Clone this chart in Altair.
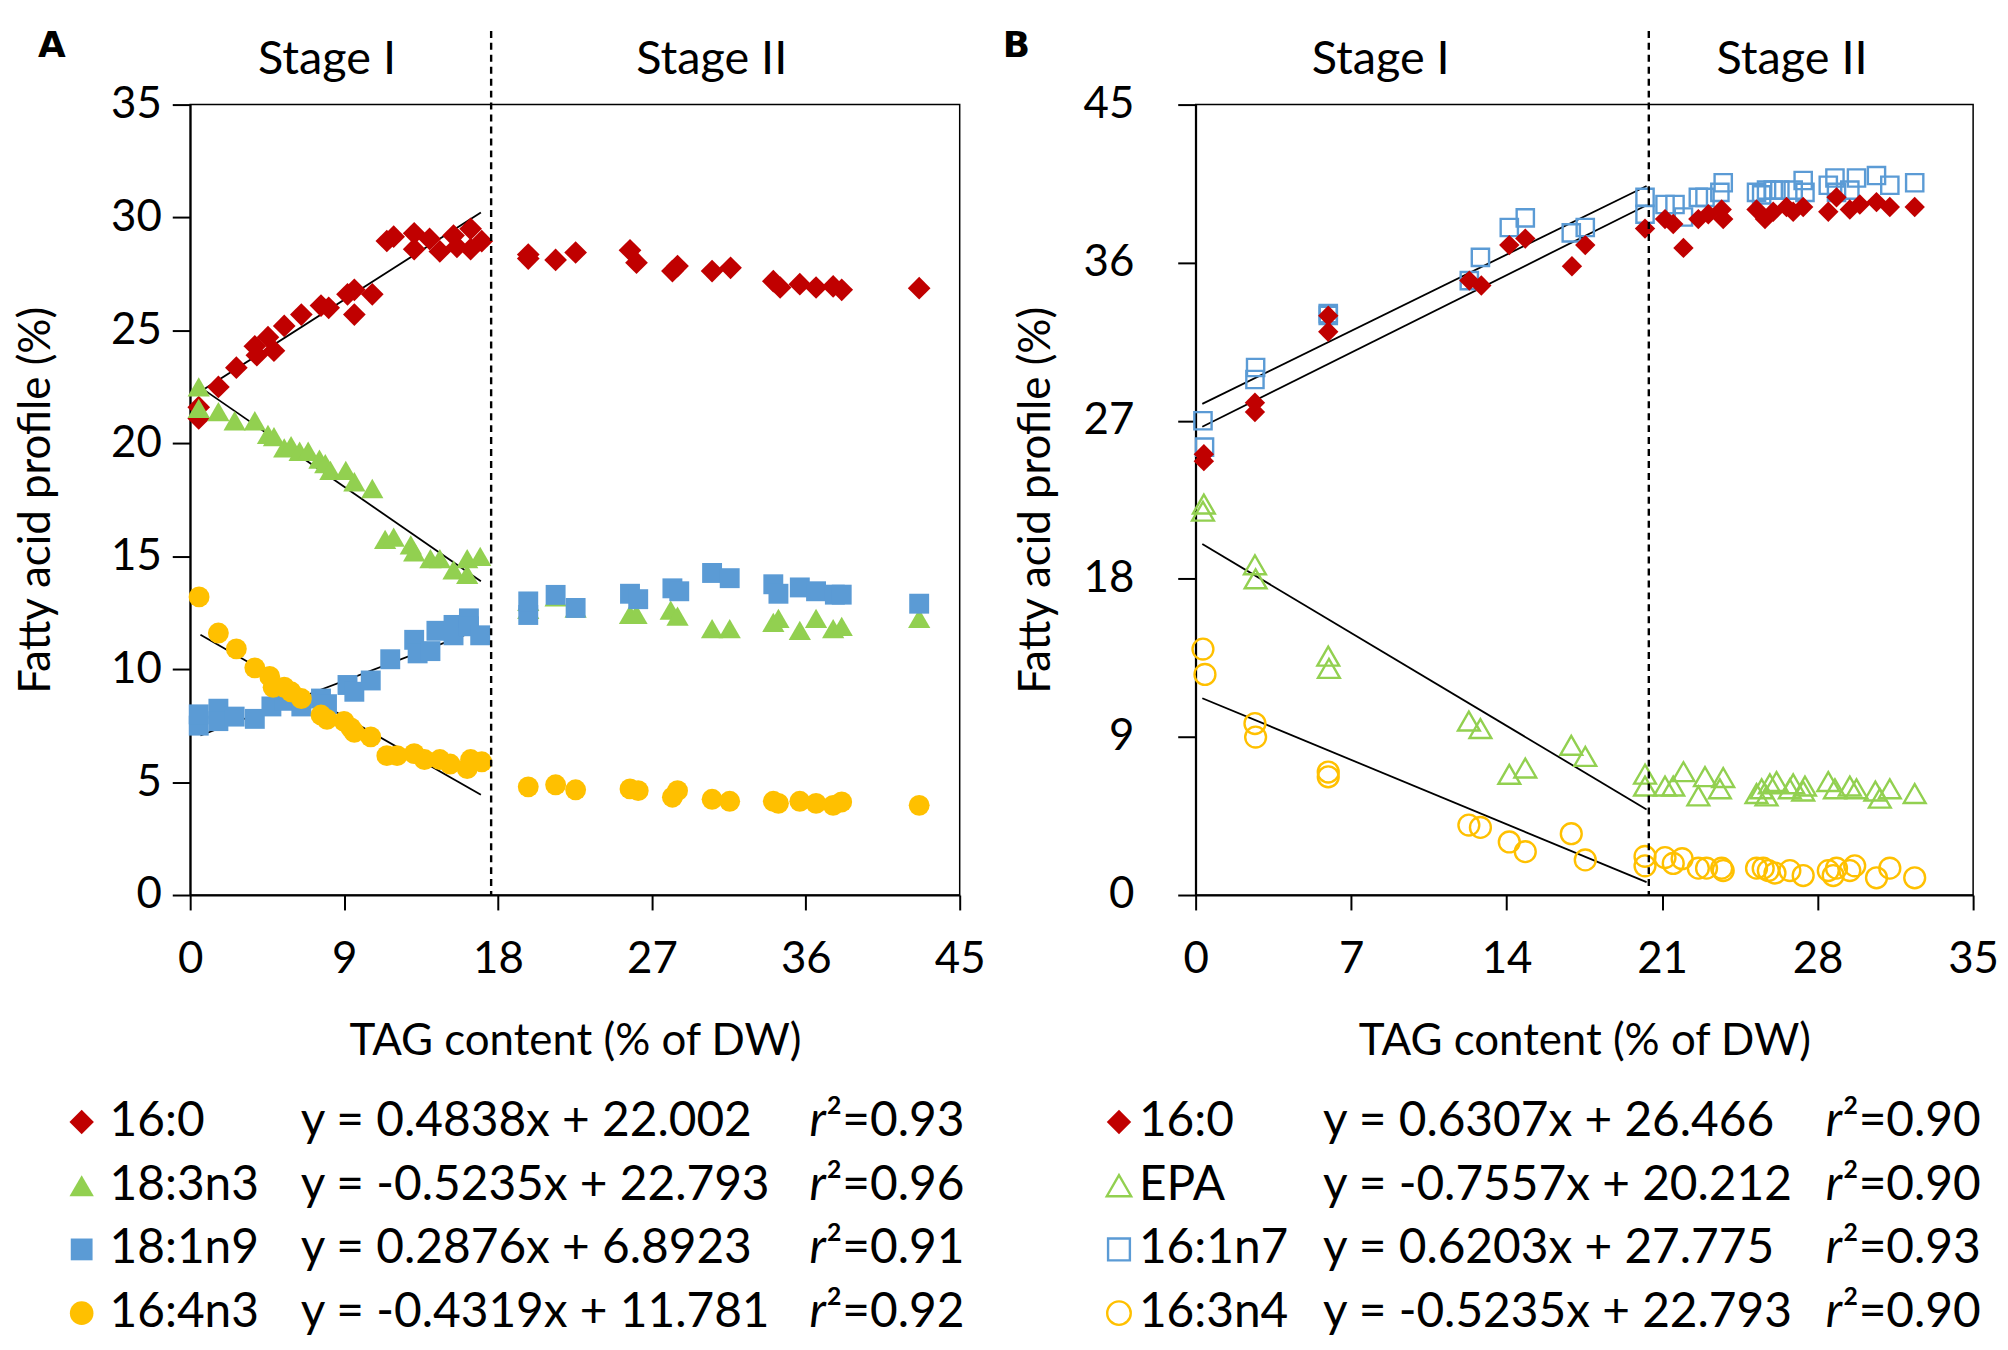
import altair as alt
import pandas as pd

FONT = "Lato"
RED = "#C00000"
GREEN = "#92D050"
BLUE = "#5B9BD5"
YELLOW = "#FFC000"

# ---------------- Panel A data ----------------
A_160_x = [0.5, 0.5, 1.65, 2.7, 3.78, 3.9, 4.55, 4.9, 5.5, 6.5, 7.65, 8.1, 9.2, 9.6, 9.6, 10.65, 11.5, 11.9,
           13.1, 13.1, 14.0, 14.6, 15.4, 15.6, 16.4, 16.4, 17.05,
           19.77, 19.77, 21.37, 22.54, 25.72, 26.1, 28.2, 28.5, 30.52, 31.6, 34.1, 34.5, 35.65, 36.6, 37.6, 38.1, 42.63]
A_160_y = [21.1, 21.6, 22.5, 23.35, 24.3, 23.9, 24.7, 24.1, 25.2, 25.7, 26.1, 26.0, 26.6, 26.8, 25.7, 26.6, 28.96, 29.15,
           29.3, 28.6, 29.05, 28.5, 29.2, 28.7, 29.5, 28.6, 28.95,
           28.36, 28.18, 28.12, 28.45, 28.55, 28.0, 27.63, 27.85, 27.63, 27.77, 27.18, 26.9, 27.05, 26.9, 26.95, 26.8, 26.87]

A_183_x = [0.5, 0.5, 1.65, 2.6, 3.78, 4.55, 4.9, 5.5, 5.9, 6.4, 6.9, 7.56, 7.9, 8.2, 9.1, 9.6, 10.65, 11.4, 11.9,
           12.9, 13.1, 14.05, 14.6, 15.4, 16.2, 16.2, 16.96,
           19.77, 19.77, 21.37, 22.54, 25.72, 26.1, 28.1, 28.5, 30.52, 31.55, 34.1, 34.4, 35.65, 36.6, 37.6, 38.1, 42.63]
A_183_y = [22.5, 21.55, 21.4, 21.0, 21.0, 20.4, 20.3, 19.8, 19.9, 19.65, 19.65, 19.3, 19.1, 18.8, 18.8, 18.3, 18.0, 15.75, 15.85,
           15.5, 15.2, 14.9, 14.9, 14.4, 14.2, 14.9, 15.0,
           13.0, 12.65, 13.2, 12.7, 12.43, 12.43, 12.62, 12.35, 11.8, 11.8, 12.07, 12.25, 11.72, 12.25, 11.8, 11.9, 12.25]

A_181_x = [0.5, 0.5, 1.65, 1.65, 2.6, 3.78, 4.75, 5.5, 6.5, 7.65, 8.0, 9.2, 9.6, 10.56, 11.7, 13.1, 13.3, 14.05,
           14.4, 15.4, 15.4, 16.3, 16.3, 16.96,
           19.77, 19.77, 21.37, 22.54, 25.72, 26.2, 28.2, 28.6, 30.52, 31.55, 34.1, 34.4, 35.65, 36.6, 37.7, 38.1, 42.63]
A_181_y = [7.5, 8.0, 8.25, 7.7, 7.9, 7.8, 8.35, 8.6, 8.35, 8.7, 8.45, 9.3, 9.0, 9.5, 10.44, 11.3, 10.7, 10.8,
           11.7, 11.96, 11.5, 12.25, 11.9, 11.5,
           12.4, 13.0, 13.29, 12.71, 13.34, 13.1, 13.58, 13.45, 14.26, 14.03, 13.76, 13.34, 13.62, 13.45, 13.3, 13.3, 12.9]

A_164_x = [0.52, 1.65, 2.7, 3.78, 4.65, 4.85, 5.5, 5.9, 6.5, 7.65, 8.0, 9.0, 9.4, 9.6, 10.56, 11.5, 12.1, 13.1,
           13.7, 14.6, 15.2, 16.2, 16.4, 17.05,
           19.77, 21.37, 22.54, 25.72, 26.2, 28.2, 28.5, 30.52, 31.55, 34.1, 34.4, 35.65, 36.6, 37.6, 38.1, 42.63]
A_164_y = [13.2, 11.6, 10.9, 10.06, 9.68, 9.2, 9.2, 9.0, 8.7, 7.97, 7.78, 7.69, 7.4, 7.2, 7.0, 6.17, 6.17, 6.26,
           6.0, 6.0, 5.8, 5.6, 6.0, 5.9,
           4.79, 4.88, 4.66, 4.7, 4.62, 4.33, 4.62, 4.24, 4.15, 4.15, 4.06, 4.15, 4.06, 3.97, 4.12, 3.97]

A_names = ["16:0", "18:3n3", "18:1n9", "16:4n3"]
A_eqs = ["y = 0.4838x + 22.002", "y = -0.5235x + 22.793", "y = 0.2876x + 6.8923", "y = -0.4319x + 11.781"]
A_r2 = ["0.93", "0.96", "0.91", "0.92"]
A_slopes = [0.4838, -0.5235, 0.2876, -0.4319]
A_intercepts = [22.002, 22.793, 6.8923, 11.781]
A_fit_x = [0.6, 17.0]
A_break = 17.6
A_stage_labels = ["Stage I", "Stage II"]
A_stage_x = [8.0, 30.5]

# ---------------- Panel B data ----------------
B_160_x = [0.37, 0.37, 2.67, 2.67, 5.97, 5.97, 12.32, 12.86, 14.12, 14.84, 16.94, 17.54,
           20.23, 21.13, 21.5, 21.96, 22.63, 23.08, 23.68, 23.75, 25.25, 25.63, 26.0, 26.6, 26.9, 27.35,
           28.48, 28.85, 29.45, 29.9, 30.65, 31.25, 32.37]
B_160_y = [24.7, 25.1, 28.03, 27.5, 32.98, 32.07, 34.98, 34.7, 37.0, 37.37, 35.8, 37.0,
           37.94, 38.48, 38.2, 36.84, 38.48, 38.76, 39.03, 38.48, 39.03, 38.48, 38.9, 39.17, 38.9, 39.17,
           38.9, 39.72, 39.03, 39.31, 39.45, 39.17, 39.17]

B_epa_x = [0.37, 0.33, 2.67, 2.7, 5.97, 6.0, 12.3, 12.82, 14.12, 14.84, 16.91, 17.54,
           20.23, 20.23, 21.13, 21.5, 21.96, 22.63, 22.93, 23.6, 23.75, 25.25, 25.48, 25.7, 25.85, 26.15,
           26.75, 26.9, 27.35, 27.43, 28.48, 28.78, 29.45, 29.75, 30.6, 30.8, 31.25, 32.37]
B_epa_y = [22.26, 21.85, 18.8, 18.0, 13.6, 12.9, 9.9, 9.48, 6.87, 7.23, 8.52, 7.89,
           6.88, 6.2, 6.2, 6.2, 7.02, 5.64, 6.74, 6.05, 6.69, 5.78, 6.05, 5.64, 6.33, 6.46,
           6.05, 6.33, 5.92, 6.2, 6.46, 6.05, 6.2, 6.05, 5.92, 5.51, 6.05, 5.78]

B_161_x = [0.33, 0.4, 2.7, 2.67, 5.97, 5.97, 12.32, 12.82, 14.12, 14.84, 16.91, 17.54,
           20.23, 20.23, 21.13, 21.58, 21.96, 22.63, 22.93, 23.6, 23.75, 25.25, 25.48, 25.7, 26.0, 26.3,
           26.9, 27.35, 27.43, 28.48, 28.78, 28.85, 29.45, 29.75, 30.65, 31.25, 32.37]
B_161_y = [27.0, 25.5, 30.03, 29.35, 33.1, 33.0, 34.98, 36.3, 38.0, 38.55, 37.7, 38.0,
           39.72, 38.76, 39.31, 39.31, 38.6, 39.72, 39.72, 40.0, 40.55, 40.0, 39.86, 40.13, 40.13, 40.13,
           40.13, 40.68, 40.0, 40.41, 40.82, 40.0, 40.13, 40.82, 40.96, 40.41, 40.55]

B_163_x = [0.33, 0.42, 2.67, 2.7, 5.97, 5.97, 12.3, 12.82, 14.12, 14.84, 16.91, 17.54,
           20.23, 20.23, 21.13, 21.5, 21.9, 22.63, 23.0, 23.68, 23.75, 25.25, 25.55, 25.78, 26.08,
           26.75, 27.35, 28.48, 28.7, 28.85, 29.45, 29.67, 30.65, 31.25, 32.37]
B_163_y = [14.0, 12.56, 9.76, 8.99, 7.0, 6.73, 3.98, 3.85, 3.02, 2.47, 3.49, 2.0,
           2.2, 1.66, 2.13, 1.8, 2.07, 1.53, 1.53, 1.53, 1.39, 1.53, 1.53, 1.39, 1.25,
           1.39, 1.11, 1.39, 1.11, 1.53, 1.39, 1.66, 0.98, 1.53, 0.98]

B_names = ["16:0", "EPA", "16:1n7", "16:3n4"]
B_eqs = ["y = 0.6307x + 26.466", "y = -0.7557x + 20.212", "y = 0.6203x + 27.775", "y = -0.5235x + 22.793"]
B_r2 = ["0.90", "0.90", "0.93", "0.90"]
B_slopes = [0.6307, -0.7557, 0.6203, -0.5235]
B_line_intercepts = [26.466, 20.212, 27.775, 11.36]
B_fit_x = [0.3, 20.3]
B_break = 20.4
B_stage_labels = ["Stage I", "Stage II"]
B_stage_x = [8.33, 26.85]


def make_axis_x(values, title):
    return alt.Axis(values=values, title=title, grid=False, domainColor="black", domainWidth=2,
                    tickColor="black", tickWidth=2, tickSize=15, labelFont=FONT, labelFontSize=44,
                    labelColor="black", labelPadding=28, labelFlush=False, labelOverlap=False,
                    titleFont=FONT, titleFontSize=44, titleFontWeight="normal", titleColor="black",
                    titleY=160, titleBaseline="alphabetic")


def make_axis_y(values, title, label_pad, title_x):
    return alt.Axis(values=values, title=title, grid=False, domainColor="black", domainWidth=2,
                    tickColor="black", tickWidth=2, tickSize=18, labelFont=FONT, labelFontSize=44,
                    labelColor="black", labelPadding=label_pad, labelOverlap=False,
                    titleFont=FONT, titleFontSize=44, titleFontWeight="normal", titleColor="black",
                    titleX=title_x, titleBaseline="alphabetic")


def build_panel(series, slopes, intercepts, fit_x, brk, stage_labels, stage_x, letter, letter_x,
                xdom, xvals, ydom, yvals, ylabpad, ytitlex, width, height):
    xs = alt.Scale(domain=xdom, nice=False, zero=False)
    ys = alt.Scale(domain=ydom, nice=False, zero=False)
    xa = make_axis_x(xvals, "TAG content (% of DW)")
    ya = make_axis_y(yvals, "Fatty acid profile (%)", ylabpad, ytitlex)
    X = alt.X("x:Q", scale=xs, axis=xa)
    Y = alt.Y("y:Q", scale=ys, axis=ya)

    layers = []
    # trend lines
    rows = []
    for i, (m, b) in enumerate(zip(slopes, intercepts)):
        for xv in fit_x:
            rows.append({"x": xv, "y": m * xv + b, "s": i})
    layers.append(alt.Chart(pd.DataFrame(rows)).mark_line(color="black", strokeWidth=1.8)
                  .encode(x=X, y=Y, detail="s:N"))
    # points
    for xs_, ys_, shape, color, filled, size in series:
        df = pd.DataFrame({"x": xs_, "y": ys_})
        if filled:
            mk = alt.Chart(df).mark_point(shape=shape, filled=True, color=color, size=size,
                                          opacity=1, strokeWidth=0)
        else:
            mk = alt.Chart(df).mark_point(shape=shape, filled=False, color=color, size=size,
                                          opacity=1, strokeWidth=2.4)
        layers.append(mk.encode(x=X, y=Y))
    # dashed stage divider
    layers.append(alt.Chart(pd.DataFrame({"x": [brk]})).mark_rule(color="black", strokeDash=[7, 5],
                                                                    strokeWidth=2.4)
                  .encode(x=X, y=alt.value(-74), y2=alt.value(height)))
    # stage labels
    layers.append(alt.Chart(pd.DataFrame({"x": stage_x, "t": stage_labels}))
                  .mark_text(font=FONT, fontSize=47, baseline="alphabetic", align="center", color="black")
                  .encode(x=X, y=alt.value(-31), text="t:N"))
    # panel letter
    layers.append(alt.Chart(pd.DataFrame({"t": [letter]}))
                  .mark_text(font="DejaVu Sans", fontSize=36, fontWeight="bold", baseline="alphabetic",
                             align="center", color="black")
                  .encode(x=alt.value(letter_x), y=alt.value(-48), text="t:N"))
    return alt.layer(*layers).properties(width=width, height=height,
                                         view=alt.ViewBackground(stroke="black", strokeWidth=1.5))


def build_legend(names, eqs, r2s, symbols, pos, width, height):
    ys = alt.Scale(domain=[0.5, 4.5], reverse=True)
    df = pd.DataFrame({"row": [1, 2, 3, 4], "name": names, "eq": eqs,
                       "r": ["r"] * 4, "rv": ["\u00b2=" + v for v in r2s]})
    Y = alt.Y("row:Q", scale=ys, axis=None)
    sym_x, name_x, eq_x, r_x = pos
    layers = []
    for i, (shape, color, filled, size) in enumerate(symbols):
        d = df.iloc[[i]]
        if filled:
            mk = alt.Chart(d).mark_point(shape=shape, filled=True, color=color, size=size, opacity=1,
                                         strokeWidth=0)
        else:
            mk = alt.Chart(d).mark_point(shape=shape, filled=False, color=color, size=size, opacity=1,
                                         strokeWidth=2.4)
        layers.append(mk.encode(x=alt.value(sym_x), y=Y))
    base = dict(font=FONT, fontSize=48, baseline="middle", align="left", color="black")
    layers.append(alt.Chart(df).mark_text(**base).encode(x=alt.value(name_x), y=Y, text="name:N"))
    layers.append(alt.Chart(df).mark_text(**base).encode(x=alt.value(eq_x), y=Y, text="eq:N"))
    layers.append(alt.Chart(df).mark_text(fontStyle="italic", **base)
                  .encode(x=alt.value(r_x), y=Y, text="r:N"))
    layers.append(alt.Chart(df).mark_text(**base).encode(x=alt.value(r_x + 17), y=Y, text="rv:N"))
    return alt.layer(*layers).properties(width=width, height=height,
                                         view=alt.ViewBackground(strokeOpacity=0))


WA, WB, H = 773, 781, 794

panelA = build_panel(
    [(A_160_x, A_160_y, "diamond", RED, True, 520),
     (A_183_x, A_183_y, "triangle-up", GREEN, True, 500),
     (A_181_x, A_181_y, "square", BLUE, True, 400),
     (A_164_x, A_164_y, "circle", YELLOW, True, 440)],
    A_slopes, A_intercepts, A_fit_x, A_break, A_stage_labels, A_stage_x, "A", -139,
    [0, 45], [0, 9, 18, 27, 36, 45], [0, 35], [0, 5, 10, 15, 20, 25, 30, 35], 11, -141, WA, H)

panelB = build_panel(
    [(B_161_x, B_161_y, "square", BLUE, False, 300),
     (B_160_x, B_160_y, "diamond", RED, True, 420),
     (B_epa_x, B_epa_y, "triangle-up", GREEN, False, 480),
     (B_163_x, B_163_y, "circle", YELLOW, False, 440)],
    B_slopes, B_line_intercepts, B_fit_x, B_break, B_stage_labels, B_stage_x, "B", -180,
    [0, 35], [0, 7, 14, 21, 28, 35], [0, 45], [0, 9, 18, 27, 36, 45], 44, -147, WB, H)

legendA = build_legend(A_names, A_eqs, A_r2,
                       [("diamond", RED, True, 600), ("triangle-up", GREEN, True, 600),
                        ("square", BLUE, True, 480), ("circle", YELLOW, True, 560)],
                       (-109, -81, 111, 622), WA, 256)
legendB = build_legend(B_names, B_eqs, B_r2,
                       [("diamond", RED, True, 600), ("triangle-up", GREEN, False, 600),
                        ("square", BLUE, False, 480), ("circle", YELLOW, False, 560)],
                       (-77, -57, 128, 633), WB, 256)

chart = alt.ConcatChart(
    concat=[panelA, panelB, legendA, legendB], columns=2,
    spacing=alt.RowColnumber(row=196, column=237), bounds="flush"
).properties(padding={"left": 6, "top": 16, "right": 0, "bottom": 0}).configure(font=FONT)

chart.save("out.html", embed_options={"renderer": "svg", "actions": False})
